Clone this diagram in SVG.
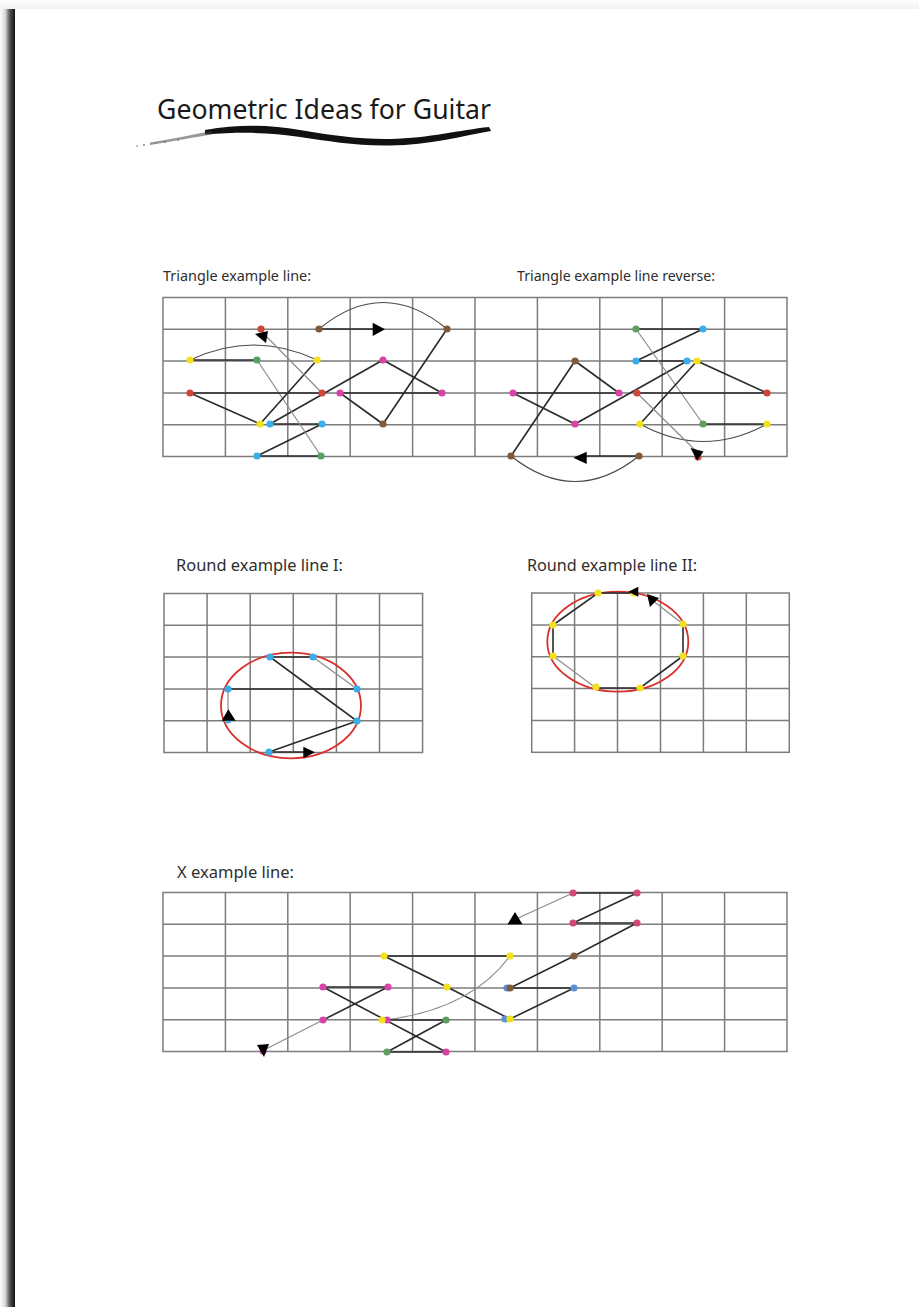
<svg xmlns="http://www.w3.org/2000/svg" width="919" height="1307" viewBox="0 0 919 1307">
<defs>
<linearGradient id="shadowL" x1="0" y1="0" x2="1" y2="0">
<stop offset="0" stop-color="#ffffff"/>
<stop offset="0.35" stop-color="#d8d8d8"/>
<stop offset="0.65" stop-color="#555555"/>
<stop offset="1" stop-color="#111111"/>
</linearGradient>
<linearGradient id="shadowT" x1="0" y1="0" x2="0" y2="1">
<stop offset="0" stop-color="#ffffff"/>
<stop offset="1" stop-color="#f0f0f0"/>
</linearGradient>
<style>
.grid{stroke:#7c7c7c;stroke-width:1.5;fill:none}
.dk{stroke:#2b2b2b;stroke-width:1.6;fill:none;stroke-linecap:round}
.lt{stroke:#8c8c8c;stroke-width:1.2;fill:none;stroke-linecap:round}
.arc{stroke:#4a4a4a;stroke-width:1.2;fill:none}
.ell{stroke:#d9302c;stroke-width:1.8;fill:none}
.ah{fill:#000}
.lbl{font-family:"Noto Sans","Open Sans","Liberation Sans",sans-serif;fill:#2e2e2e;font-size:14px}
.y{fill:#f2e11c}.g{fill:#5f9e5f}.b{fill:#3badea}.r{fill:#d0453b}.m{fill:#d844a6}.n{fill:#7d5b3c}.c{fill:#d2487c}.sb{fill:#5b8fd6}
</style>
</defs>
<rect x="0" y="0" width="919" height="1307" fill="#ffffff"/>
<rect x="0" y="0" width="919" height="9" fill="url(#shadowT)"/>
<rect x="0" y="9" width="15" height="1298" fill="url(#shadowL)"/>
<rect x="15" y="9" width="904" height="1298" fill="#ffffff"/>

<g id="title">
<text x="157" y="119" font-family="'Noto Sans','Open Sans','Liberation Sans',sans-serif" font-size="27" fill="#1a1a1a" textLength="334" lengthAdjust="spacingAndGlyphs">Geometric Ideas for Guitar</text>
<path d="M205,130 C240,124 270,125 300,130 C330,135 360,139.5 390,139 C430,138 460,130 489,127 L491,131 C462,136 430,145 390,145.5 C355,146 328,141 300,137 C270,132 240,132 205,134.5 Z" fill="#111"/>
<path d="M150,142.5 C175,138.5 195,134 212,131 L212,134.5 C195,137 175,141 150,145 Z" fill="#444" opacity="0.55"/>
<g fill="#777"><circle cx="137" cy="146" r="0.8"/><circle cx="144" cy="145" r="0.9"/><circle cx="156" cy="143" r="0.8"/><circle cx="165" cy="142" r="1"/><circle cx="178" cy="140" r="0.9"/></g>
</g>

<g id="labels">
<text class="lbl" x="163" y="281" textLength="148" lengthAdjust="spacingAndGlyphs">Triangle example line:</text>
<text class="lbl" x="517" y="281" textLength="198" lengthAdjust="spacingAndGlyphs">Triangle example line reverse:</text>
<text class="lbl" x="176" y="571" style="font-size:15.5px" textLength="167" lengthAdjust="spacingAndGlyphs">Round example line I:</text>
<text class="lbl" x="527" y="571" style="font-size:15.5px" textLength="170" lengthAdjust="spacingAndGlyphs">Round example line II:</text>
<text class="lbl" x="177" y="878" style="font-size:15.5px" textLength="117" lengthAdjust="spacingAndGlyphs">X example line:</text>
</g>

<g id="grid-triangle">
<rect class="grid" x="163" y="297.5" width="624" height="159"/>
<path class="grid" d="M163,329.3H787M163,361.1H787M163,392.9H787M163,424.7H787M225.4,297.5V456.5M287.8,297.5V456.5M350.2,297.5V456.5M412.6,297.5V456.5M475,297.5V456.5M537.4,297.5V456.5M599.8,297.5V456.5M662.2,297.5V456.5M724.6,297.5V456.5"/>
</g>
<g id="grid-round1">
<rect class="grid" x="164" y="593.5" width="258.6" height="159"/>
<path class="grid" d="M164,625.3H422.6M164,657.1H422.6M164,688.9H422.6M164,720.7H422.6M207.1,593.5V752.5M250.2,593.5V752.5M293.3,593.5V752.5M336.4,593.5V752.5M379.5,593.5V752.5"/>
</g>
<g id="grid-round2">
<rect class="grid" x="531.7" y="593" width="257.6" height="159.3"/>
<path class="grid" d="M531.7,624.9H789.3M531.7,656.7H789.3M531.7,688.6H789.3M531.7,720.4H789.3M574.6,593V752.3M617.5,593V752.3M660.5,593V752.3M703.4,593V752.3M746.3,593V752.3"/>
</g>
<g id="grid-x">
<rect class="grid" x="163" y="892.5" width="624" height="159"/>
<path class="grid" d="M163,924.3H787M163,956.1H787M163,987.9H787M163,1019.7H787M225.4,892.5V1051.5M287.8,892.5V1051.5M350.2,892.5V1051.5M412.6,892.5V1051.5M475,892.5V1051.5M537.4,892.5V1051.5M599.8,892.5V1051.5M662.2,892.5V1051.5M724.6,892.5V1051.5"/>
</g>

<g id="connectors">
<path class="arc" d="M319,329 Q383,276 447,329"/>
<path class="dk" d="M319,329 H378"/>
<path class="dk" d="M447,329 L383,424 L340,393 L442,393 L383,360 L270,424 L322,424 L257,456 L321,456"/>
<path class="lt" d="M321,456 L257,360"/>
<path class="dk" d="M257,360 L190,360"/>
<path class="arc" d="M190,360 Q253.5,330 317,360"/>
<path class="dk" d="M317,360 L260,424 L190,393 L322,393"/>
<path class="lt" d="M322,393 L263,333"/>
<path class="dk" d="M639,456 H585"/>
<path class="arc" d="M639,456 Q575,507 511,456"/>
<path class="dk" d="M511,456 L575,361 L619,393 L513,393 L575,424 L687,361 L636,361 L703,329 L636,329"/>
<path class="lt" d="M636,329 L703,424"/>
<path class="dk" d="M703,424 L767,424"/>
<path class="arc" d="M767,424 Q703.5,459 640,424"/>
<path class="dk" d="M640,424 L697,361 L767,393 L637,393"/>
<path class="lt" d="M637,393 L695,450"/>
<ellipse class="ell" cx="291" cy="705.5" rx="70" ry="52.8"/>
<path class="dk" d="M269,752 H305"/>
<path class="dk" d="M269,752 L357,721 L270,657 L313,657"/>
<path class="lt" d="M313,657 L357,689"/>
<path class="dk" d="M357,689 L228,689"/>
<path class="lt" d="M228,689 V712"/>
<ellipse class="ell" cx="617.8" cy="641.7" rx="70.5" ry="50"/>
<path class="lt" d="M683,624 L652,600"/>
<path class="dk" d="M683,624 L683,656 L640,688 L596,688"/>
<path class="lt" d="M596,688 L553,656"/>
<path class="dk" d="M553,656 L553,625 L598,593 L632,593"/>
<path class="lt" d="M573,893 L516,919"/>
<path class="dk" d="M573,893 L637,893 L573,923 L637,923 L574,956 L510,988 L574,988 L510,1019 L447,987 L384,956 L510,956"/>
<path class="lt" d="M510,956 Q470,1010 384,1020"/>
<path class="dk" d="M387,1020 L446,1020 L387,1052 L446,1052 L323,987 L388,987 L323,1020"/>
<path class="lt" d="M323,1020 L264,1050"/>
</g>

<g id="nodes-triangle1">
<circle class="r" cx="261" cy="329" r="3.6"/>
<circle class="n" cx="319" cy="329" r="3.6"/>
<circle class="n" cx="447" cy="329" r="3.6"/>
<circle class="y" cx="190" cy="360" r="3.6"/>
<circle class="g" cx="257" cy="360" r="3.6"/>
<circle class="y" cx="317" cy="360" r="3.6"/>
<circle class="m" cx="383" cy="360" r="3.6"/>
<circle class="r" cx="190" cy="393" r="3.6"/>
<circle class="r" cx="322" cy="393" r="3.6"/>
<circle class="m" cx="340" cy="393" r="3.6"/>
<circle class="m" cx="442" cy="393" r="3.6"/>
<circle class="y" cx="260" cy="424" r="3.6"/>
<circle class="b" cx="270" cy="424" r="3.6"/>
<circle class="b" cx="322" cy="424" r="3.6"/>
<circle class="n" cx="383" cy="424" r="3.6"/>
<circle class="b" cx="257" cy="456" r="3.6"/>
<circle class="g" cx="321" cy="456" r="3.6"/>
<polygon class="ah" points="372.7,322.7 385,329.3 372.7,336"/>
<polygon class="ah" points="255,334 268,331 266,343"/>
</g>

<g id="nodes-triangle2">
<circle class="g" cx="636" cy="329" r="3.6"/>
<circle class="b" cx="703" cy="329" r="3.6"/>
<circle class="b" cx="636" cy="361" r="3.6"/>
<circle class="b" cx="687" cy="361" r="3.6"/>
<circle class="y" cx="697" cy="361" r="3.6"/>
<circle class="n" cx="575" cy="361" r="3.6"/>
<circle class="m" cx="513" cy="393" r="3.6"/>
<circle class="m" cx="619" cy="393" r="3.6"/>
<circle class="r" cx="637" cy="393" r="3.6"/>
<circle class="r" cx="767" cy="393" r="3.6"/>
<circle class="m" cx="575" cy="424" r="3.6"/>
<circle class="y" cx="640" cy="424" r="3.6"/>
<circle class="g" cx="703" cy="424" r="3.6"/>
<circle class="y" cx="767" cy="424" r="3.6"/>
<circle class="n" cx="511" cy="456" r="3.6"/>
<circle class="n" cx="639" cy="456" r="3.6"/>
<circle class="r" cx="698" cy="457" r="3.6"/>
<polygon class="ah" points="573.3,457.8 586.7,451.7 586.7,464"/>
<polygon class="ah" points="690.5,448 703.5,451.5 697,460.5"/>
</g>

<g id="nodes-round1">
<circle class="b" cx="270" cy="657" r="3.6"/>
<circle class="b" cx="313" cy="657" r="3.6"/>
<circle class="b" cx="357" cy="689" r="3.6"/>
<circle class="b" cx="228" cy="689" r="3.6"/>
<circle class="b" cx="357" cy="721" r="3.6"/>
<circle class="b" cx="228" cy="720" r="3.6"/>
<circle class="b" cx="269" cy="752" r="3.6"/>
<polygon class="ah" points="228.3,709.3 235.7,720.7 221.7,720.7"/>
<polygon class="ah" points="303.3,746.7 315,752.3 303.3,758.3"/>
</g>

<g id="nodes-round2">
<circle class="y" cx="598" cy="593" r="3.6"/>
<circle class="y" cx="634" cy="593" r="3.6"/>
<circle class="y" cx="553" cy="625" r="3.6"/>
<circle class="y" cx="683" cy="624" r="3.6"/>
<circle class="y" cx="553" cy="656" r="3.6"/>
<circle class="y" cx="683" cy="656" r="3.6"/>
<circle class="y" cx="596" cy="687" r="3.6"/>
<circle class="y" cx="640" cy="688" r="3.6"/>
<polygon class="ah" points="628.3,591.7 638.3,586.7 638.3,596.7"/>
<polygon class="ah" points="647,594 650,607 659,598"/>
</g>

<g id="nodes-x">
<circle class="c" cx="573" cy="893" r="3.6"/>
<circle class="c" cx="637" cy="893" r="3.6"/>
<circle class="c" cx="573" cy="923" r="3.6"/>
<circle class="c" cx="637" cy="923" r="3.6"/>
<circle class="y" cx="510" cy="956" r="3.6"/>
<circle class="n" cx="574" cy="956" r="3.6"/>
<circle class="y" cx="384" cy="956" r="3.6"/>
<circle class="m" cx="323" cy="987" r="3.6"/>
<circle class="m" cx="388" cy="987" r="3.6"/>
<circle class="y" cx="447" cy="987" r="3.6"/>
<circle class="sb" cx="507" cy="988" r="3.6"/>
<circle class="n" cx="510" cy="988" r="3.6"/>
<circle class="sb" cx="574" cy="988" r="3.6"/>
<circle class="m" cx="323" cy="1020" r="3.6"/>
<circle class="m" cx="387" cy="1020" r="3.6"/>
<circle class="y" cx="382" cy="1020" r="3.6"/>
<circle class="g" cx="446" cy="1020" r="3.6"/>
<circle class="sb" cx="505" cy="1019" r="3.6"/>
<circle class="y" cx="510" cy="1019" r="3.6"/>
<circle class="m" cx="263" cy="1051" r="3.6"/>
<circle class="g" cx="387" cy="1052" r="3.6"/>
<circle class="m" cx="446" cy="1052" r="3.6"/>
<polygon class="ah" points="515,912 522.5,924.3 507.5,924.3"/>
<polygon class="ah" points="257,1045 269,1044 264,1057"/>
</g>
</svg>
